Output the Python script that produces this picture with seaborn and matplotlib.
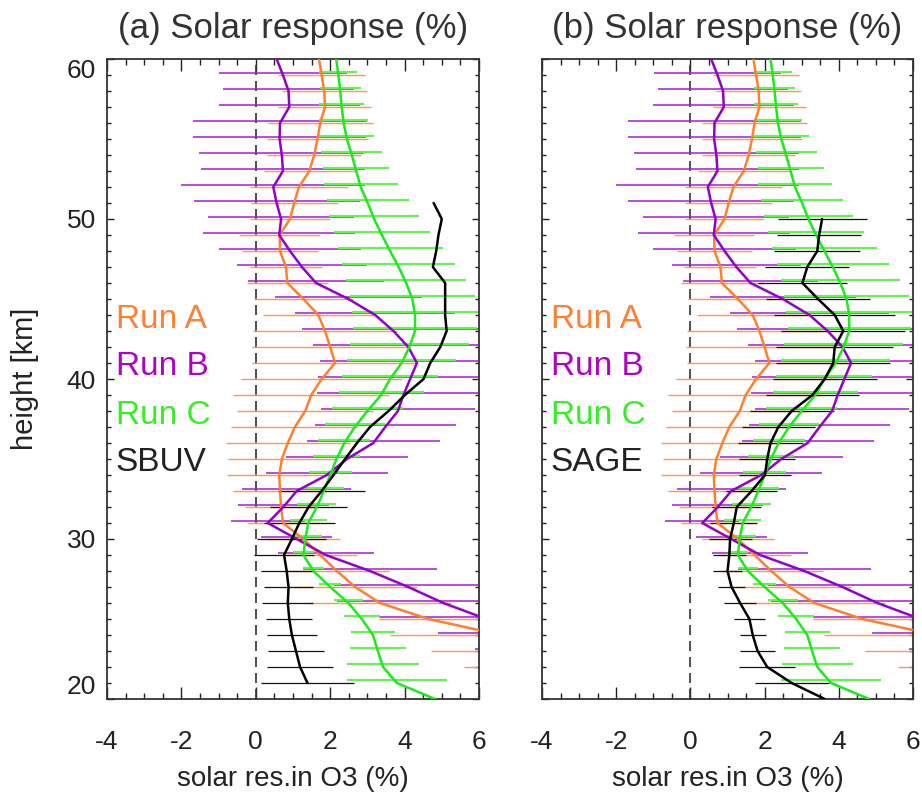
import numpy as np
import pandas as pd
import matplotlib
matplotlib.use("Agg")
import matplotlib.pyplot as plt
import seaborn as sns

# ---------------- data ----------------
heights = list(range(60, 19, -1))  # 60 ... 20 km

run_a = [1.70, 1.77, 1.84, 1.86, 1.73, 1.66, 1.57, 1.44, 1.16, 1.03,
         0.92, 0.64, 0.65, 0.81, 0.85, 1.28, 1.68, 1.86, 2.00, 2.13,
         1.77, 1.49, 1.33, 1.05, 0.86, 0.70, 0.63, 0.65, 0.68, 0.73,
         1.28, 1.73, 2.18, 2.67, 3.34, 4.64, 6.60, 7.80, 8.60, 9.20, 9.60]
err_a = [np.nan, 1.17, 1.14, 1.25, 1.41, 1.35, 1.26, 1.23, 1.31, 1.17,
         1.07, 1.08, 1.01, 0.97, 1.10, 1.34, 1.49, 1.94, 2.11, 2.22,
         2.17, 2.10, 1.83, 1.71, 1.66, 1.45, 1.41, 1.25, 0.98, 0.97,
         0.97, 0.99, 1.39, 1.66, 1.90, 1.34, 3.00, 3.10, 3.00, 3.00, np.nan]

run_b = [0.56, 0.73, 0.88, 0.90, 0.65, 0.64, 0.70, 0.73, 0.47, 0.56,
         0.68, 0.63, 0.92, 1.24, 1.62, 2.49, 3.21, 3.70, 4.10, 4.33,
         4.15, 3.97, 3.82, 3.48, 3.16, 2.45, 1.91, 1.10, 0.74, 0.32,
         1.10, 1.88, 3.07, 4.10, 5.04, 6.20, 7.20, 8.20, 9.00, 9.60, 10.0]
err_b = [np.nan, 1.72, 1.75, 1.90, 2.34, 2.33, 2.22, 2.20, 2.47, 2.23,
         1.97, 2.05, 1.92, 1.74, 1.83, 1.97, 2.15, 2.45, 2.55, 2.60,
         2.49, 2.33, 2.07, 1.90, 1.78, 1.65, 1.64, 1.47, 1.23, 1.00,
         0.96, 1.29, 1.79, 2.00, 2.86, 2.90, 2.30, 2.30, 2.30, 2.30, np.nan]

run_c = [2.16, 2.22, 2.27, 2.31, 2.36, 2.45, 2.58, 2.70, 2.82, 3.01,
         3.18, 3.39, 3.61, 3.84, 4.04, 4.21, 4.28, 4.28, 4.13, 3.92,
         3.61, 3.37, 3.00, 2.66, 2.38, 2.17, 2.00, 1.83, 1.64, 1.41,
         1.33, 1.28, 1.55, 2.00, 2.49, 2.85, 3.15, 3.28, 3.42, 3.79, 4.82]
err_c = [np.nan, 0.51, 0.55, 0.60, 0.65, 0.74, 0.82, 0.89, 0.99, 1.10,
         1.20, 1.30, 1.41, 1.51, 1.61, 1.68, 1.70, 1.66, 1.60, 1.47,
         1.29, 1.14, 0.96, 0.80, 0.70, 0.62, 0.58, 0.55, 0.52, 0.50,
         0.44, 0.28, 0.27, 0.30, 0.40, 0.49, 0.60, 0.75, 0.96, 1.34, np.nan]

sbuv_heights = list(range(51, 20, -1))  # 51 ... 21 km
sbuv = [4.78, 5.00, 4.91, 4.85, 4.76, 5.09, 5.09, 5.09, 5.13, 4.96,
        4.69, 4.51, 4.01, 3.57, 3.07, 2.72, 2.40, 2.09, 1.77, 1.42,
        1.17, 0.97, 0.76, 0.83, 0.88, 0.86, 0.90, 0.97, 1.08, 1.19, 1.39]
err_sbuv = [np.nan] * 18 + [1.16, 1.03, 0.95, 0.93, 0.80, 0.70, 0.67,
                            0.68, 0.62, 0.67, 0.76, 0.88, 1.25]

sage_heights = list(range(50, 19, -1))  # 50 ... 20 km
sage = [3.55, 3.47, 3.42, 3.15, 3.02, 3.44, 3.89, 4.12, 3.89, 3.85,
        3.62, 3.29, 2.73, 2.37, 2.16, 2.07, 2.01, 1.65, 1.25, 1.17,
        1.07, 1.05, 1.00, 1.11, 1.34, 1.59, 1.68, 1.81, 2.07, 2.73, 3.62]
err_sage = [1.20, 1.13, 1.16, 1.13, 1.20, 1.39, 1.63, 1.67, 1.58, 1.54,
            1.40, 1.26, 1.13, 0.99, 0.87, 0.76, 0.70, 0.68, 0.66, 0.63,
            0.58, 0.45, 0.40, 0.37, 0.43, 0.42, 0.35, 0.47, 0.75, 1.00, np.nan]

x_ticks = [-4, -2, 0, 2, 4, 6]
y_ticks = [20, 30, 40, 50, 60]
titles = ["(a) Solar response (%)", "(b) Solar response (%)"]
obs_names = ["SBUV", "SAGE"]
run_names = ["Run A", "Run B", "Run C"]

# ---------------- style ----------------
sns.set_theme(style="ticks")
plt.rcParams["font.family"] = ["Liberation Sans", "DejaVu Sans"]
plt.rcParams["axes.unicode_minus"] = False
plt.rcParams["text.color"] = "#222222"
plt.rcParams["axes.labelcolor"] = "#222222"
plt.rcParams["xtick.color"] = "#222222"
plt.rcParams["ytick.color"] = "#222222"

line_col = {"Run A": "#FF7F2E", "Run B": "#9300C8", "Run C": "#1EE81E", "obs": "#000000"}
bar_col = {"Run A": "#FF9550", "Run B": "#A31ED0", "Run C": "#66F255", "obs": "#111111"}
txt_col = {"Run A": "#FF8033", "Run B": "#B000C4", "Run C": "#33F022", "obs": "#222222"}
bar_lw = {"Run A": 1.0, "Run B": 1.1, "Run C": 1.6, "obs": 0.9}
bar_off = {"Run A": 0.0, "Run B": 0.1, "Run C": 0.2, "obs": 0.0}

models = pd.DataFrame({
    "height": heights * 3,
    "value": run_a + run_b + run_c,
    "err": err_a + err_b + err_c,
    "run": ["Run A"] * len(heights) + ["Run B"] * len(heights) + ["Run C"] * len(heights),
})
obs_tables = [
    pd.DataFrame({"height": sbuv_heights, "value": sbuv, "err": err_sbuv, "run": "obs"}),
    pd.DataFrame({"height": sage_heights, "value": sage, "err": err_sage, "run": "obs"}),
]

fig = plt.figure(figsize=(9.22, 7.96), dpi=100)
ax_a = fig.add_axes([107 / 922, 1 - 699 / 796, 372 / 922, 640 / 796])
ax_b = fig.add_axes([542 / 922, 1 - 699 / 796, 371 / 922, 640 / 796])

for i, ax in enumerate([ax_a, ax_b]):
    obs = obs_tables[i]
    # error bars
    for name in run_names:
        d = models[models["run"] == name]
        ax.errorbar(d["value"], d["height"] + bar_off[name], xerr=d["err"], fmt="none",
                    ecolor=bar_col[name], elinewidth=bar_lw[name], capsize=0, zorder=2)
    ax.errorbar(obs["value"], obs["height"], xerr=obs["err"], fmt="none",
                ecolor=bar_col["obs"], elinewidth=bar_lw["obs"], capsize=0, zorder=2)
    # profiles
    sns.lineplot(data=models, x="value", y="height", hue="run", orient="y",
                 estimator=None, palette={k: line_col[k] for k in run_names},
                 linewidth=1.8, legend=False, ax=ax, zorder=3)
    sns.lineplot(data=obs, x="value", y="height", orient="y", estimator=None,
                 color=line_col["obs"], linewidth=1.8, ax=ax, zorder=4)
    ax.axvline(0, color="#333333", lw=1.2, ls=(0, (6, 3.6)), zorder=1)

    ax.set_xlim(-4, 6)
    ax.set_ylim(20, 60)
    ax.set_xticks(x_ticks)
    ax.set_xticks(np.arange(-4, 6.01, 0.5), minor=True)
    ax.set_yticks(y_ticks)
    ax.set_yticks(np.arange(20, 60.01, 1), minor=True)
    ax.tick_params(which="both", direction="in", top=True, right=True, width=1.0)
    ax.tick_params(axis="x", which="major", length=8.6, pad=22, labelsize=19)
    ax.tick_params(axis="x", which="minor", length=4.3)
    ax.tick_params(axis="y", which="major", length=5.0, pad=8, labelsize=19)
    ax.tick_params(axis="y", which="minor", length=2.9)
    for sp in ax.spines.values():
        sp.set_color("#333333")
        sp.set_linewidth(1.3)
    ax.set_title(titles[i], fontsize=25, pad=15, color="#333333")
    ax.set_xlabel("solar res.in O3 (%)", fontsize=20, labelpad=9)

    labels = run_names + [obs_names[i]]
    keys = run_names + ["obs"]
    for lab, key, yy in zip(labels, keys, [43.7, 40.8, 37.75, 34.8]):
        ax.text(-3.76, yy, lab, color=txt_col[key], fontsize=24, ha="left", va="center")

ax_a.set_ylabel("height [km]", fontsize=21, labelpad=20)
ax_b.set_ylabel("")
ax_b.tick_params(axis="y", labelleft=False)
ticks = ax_a.yaxis.get_major_ticks()
ticks[0].label1.set_va("bottom")
ticks[-1].label1.set_va("top")

fig.savefig("out.png", dpi=100, facecolor="white")
